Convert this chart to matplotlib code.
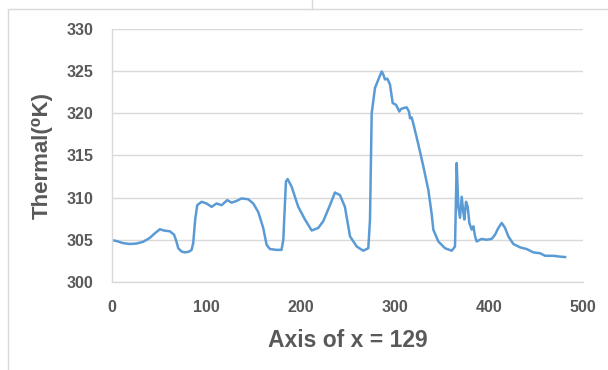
import matplotlib.pyplot as plt
from matplotlib.patches import Rectangle
from matplotlib.lines import Line2D

# Thermal profile
x_pos = [0, 5, 12, 19, 26, 33, 40, 46, 51, 55, 61.6, 66, 68.5, 70.4, 74, 77.5, 82, 84.6,
         86.3, 88.5, 90.6, 95.2, 100.5, 105.8, 111, 116.5, 122.4, 127, 132.3, 137.6, 144.7,
         150, 155.3, 160.6, 164.2, 167.7, 174.8, 180, 181.9, 184.7, 186.5, 190.7, 197.8,
         204.9, 212, 219, 224.3, 231.4, 236.7, 242, 247.3, 252.7, 259.8, 266.8, 272.1,
         273.9, 275.7, 279.2, 282.8, 286.3, 288, 289.8, 292.3, 295.1, 298, 301.5, 303.3,
         305, 306.8, 309.3, 312.8, 315.3, 316.4, 318.1, 319.8, 325.2, 330.5, 335.8, 339.3,
         341.1, 346.4, 353.5, 360.6, 364.1, 365.9, 367.6, 369.4, 371.2, 372.9, 374, 375.8,
         377.6, 379.3, 381.8, 383.6, 385.4, 387.1, 392.4, 397.7, 403, 406.6, 410.1, 413.7,
         417.2, 420.7, 426, 433.1, 440.2, 447.3, 454.4, 459.7, 468.5, 475.6, 480.9]
thermal = [304.95, 304.85, 304.6, 304.5, 304.55, 304.75, 305.2, 305.8, 306.25, 306.1,
           306.0, 305.6, 304.8, 304.0, 303.6, 303.5, 303.6, 303.8,
           304.6, 307.5, 309.1, 309.5, 309.3, 308.9, 309.3, 309.1, 309.7, 309.4, 309.6,
           309.9, 309.8, 309.3, 308.3, 306.4, 304.4, 303.9, 303.8, 303.8, 305.0, 311.9,
           312.2, 311.3, 308.9, 307.4, 306.1, 306.4, 307.2, 309.1, 310.6, 310.3, 308.9,
           305.4, 304.2, 303.7, 304.0, 307.4, 320.0, 323.0, 324.0, 324.95, 324.6, 324.0,
           324.1, 323.4, 321.2, 321.0, 320.6, 320.2, 320.5, 320.6, 320.7, 320.2, 319.4,
           319.5, 318.8, 316.3, 313.7, 310.9, 308.1, 306.2, 304.8, 304.0, 303.7, 304.2,
           314.1, 308.9, 307.6, 310.1, 308.3, 307.4, 309.5, 308.9, 307.0, 306.2, 306.6,
           305.4, 304.8, 305.1, 305.0, 305.1, 305.6, 306.4, 307.0, 306.4, 305.4, 304.5,
           304.1, 303.9, 303.5, 303.4, 303.1, 303.1, 303.0, 302.95]

x_ticks = [0, 100, 200, 300, 400, 500]
y_ticks = [300, 305, 310, 315, 320, 325, 330]

fonts = ['Liberation Sans', 'DejaVu Sans']

fig = plt.figure(figsize=(6.08, 3.70), dpi=100)
ax = fig.add_axes([0.184, 0.238, 0.775, 0.684])

# chart area border like the Excel frame
fig.patches.append(Rectangle((8 / 608, -0.05), 1.1, 1 - 9 / 370 + 0.05,
                             transform=fig.transFigure, fill=False,
                             edgecolor='#D9D9D9', linewidth=1.0))
fig.lines.append(Line2D([312 / 608, 312 / 608], [1 - 9 / 370, 1.0],
                        transform=fig.transFigure, color='#D9D9D9', linewidth=1.0))

ax.plot(x_pos, thermal, color='#5B9BD5', linewidth=1.8, solid_joinstyle='round')

ax.set_xlim(0, 500)
ax.set_ylim(300, 330)
ax.set_xticks(x_ticks)
ax.set_yticks(y_ticks)
ax.grid(axis='y', color='#D9D9D9', linewidth=1.0)
ax.set_axisbelow(True)

for side in ['top', 'right']:
    ax.spines[side].set_visible(False)
for side in ['left', 'bottom']:
    ax.spines[side].set_color('#D9D9D9')
    ax.spines[side].set_linewidth(1.0)

ax.tick_params(length=0, colors='#595959', labelsize=11.5)
ax.tick_params(axis='y', pad=13)
ax.tick_params(axis='x', pad=13)
for lab in ax.get_xticklabels() + ax.get_yticklabels():
    lab.set_fontweight('bold')
    lab.set_family(fonts)

ax.set_xlabel('Axis of x = 129', fontsize=16.5, fontweight='bold', color='#595959',
              family=fonts, labelpad=10)
ax.set_ylabel('Thermal(\u2070K)', fontsize=16, fontweight='bold', color='#595959',
              family=fonts, labelpad=10)

fig.savefig('out.png', dpi=100)
